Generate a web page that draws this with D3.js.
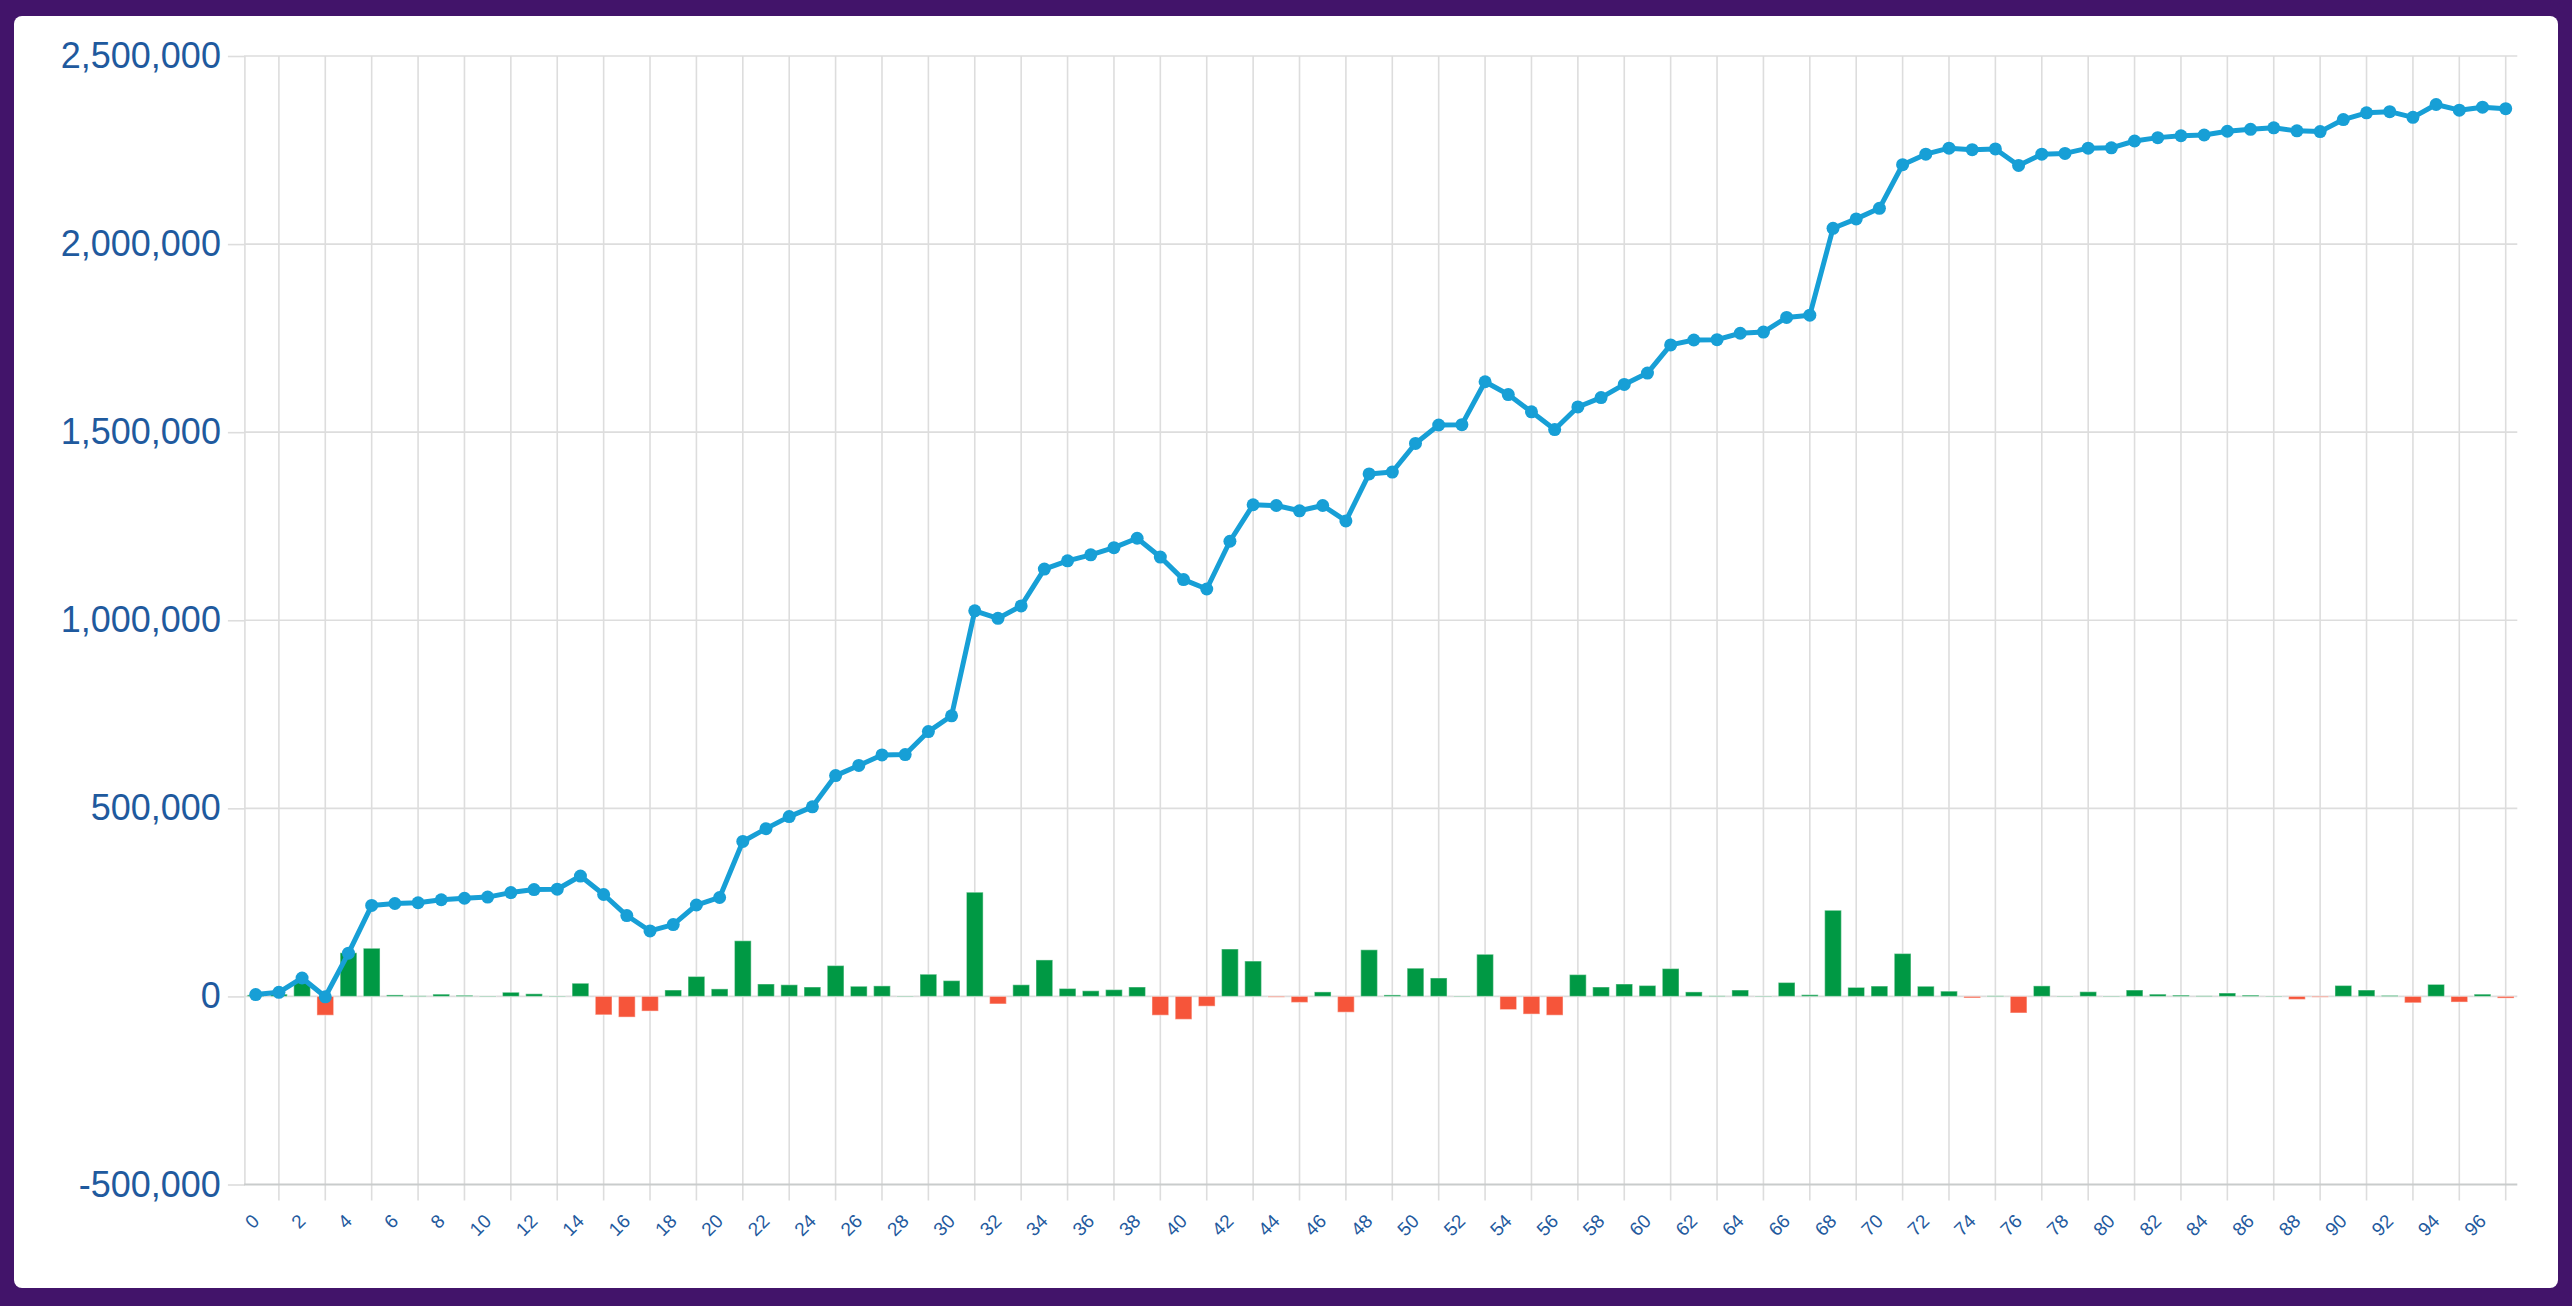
<!DOCTYPE html>
<html>
<head>
<meta charset="utf-8">
<script src="https://cdn.jsdelivr.net/npm/d3@7/dist/d3.min.js"></script>
<style>
  html, body { margin: 0; padding: 0; background: #42146a; }
  svg { display: block; }
  .tick text { font-family: "Liberation Sans", Arial, sans-serif; fill: #1f5a9e; }
</style>
</head>
<body>
<div id="chart"></div>
<script>
// categories (x index)
const categories = [
  0, 1, 2, 3, 4, 5, 6, 7, 8, 9, 10, 11, 12, 13, 14, 15, 16, 17, 18, 19,
  20, 21, 22, 23, 24, 25, 26, 27, 28, 29, 30, 31, 32, 33, 34, 35, 36, 37, 38, 39,
  40, 41, 42, 43, 44, 45, 46, 47, 48, 49, 50, 51, 52, 53, 54, 55, 56, 57, 58, 59,
  60, 61, 62, 63, 64, 65, 66, 67, 68, 69, 70, 71, 72, 73, 74, 75, 76, 77, 78, 79,
  80, 81, 82, 83, 84, 85, 86, 87, 88, 89, 90, 91, 92, 93, 94, 95, 96, 97
];

// running total (line)
const totals = [
  5000, 11000, 49000, -1000, 115000, 242000, 247000, 249000, 257000, 261000,
  264000, 276000, 284000, 285000, 320000, 271000, 215000, 174000, 191000, 243000,
  263000, 412000, 446000, 478000, 504000, 587000, 614000, 642000, 643000, 704000,
  746000, 1025000, 1005000, 1038000, 1136000, 1158000, 1174000, 1193000, 1218000, 1168000,
  1108000, 1083000, 1210000, 1307000, 1305000, 1291000, 1305000, 1264000, 1389000, 1394000,
  1470000, 1519000, 1520000, 1634000, 1600000, 1554000, 1507000, 1567000, 1592000, 1627000,
  1657000, 1732000, 1745000, 1746000, 1763000, 1766000, 1805000, 1811000, 2042000, 2067000,
  2095000, 2211000, 2239000, 2255000, 2251000, 2253000, 2209000, 2239000, 2241000, 2255000,
  2256000, 2274000, 2283000, 2288000, 2290000, 2300000, 2305000, 2309000, 2301000, 2299000,
  2331000, 2349000, 2352000, 2337000, 2371000, 2356000, 2364000, 2360000
];

// change per step (bars)
const changes = [
  4000, 6000, 37000, -50000, 116000, 128000, 4000, 1500, 6000, 3000,
  1000, 11000, 7000, 1000, 35000, -49000, -55000, -39000, 17000, 53000,
  20000, 148000, 33000, 31000, 25000, 82000, 27000, 28000, 1000, 59000,
  42000, 277000, -20000, 31000, 97000, 21000, 15000, 18000, 25000, -50000,
  -61000, -26000, 126000, 94000, -2000, -16000, 12000, -42000, 124000, 4000,
  75000, 49000, 1000, 112000, -35000, -47000, -50000, 58000, 25000, 33000,
  29000, 74000, 12000, 1500, 17000, 1000, 37000, 4500, 229000, 24000,
  27500, 114000, 27000, 14000, -4000, 1500, -44000, 28000, 1000, 12500,
  1000, 17000, 6000, 3500, 1500, 9000, 3500, 1000, -8000, -2000,
  29000, 17000, 2500, -17000, 32000, -15000, 6000, -4500
];

const yTicks = [-500000, 0, 500000, 1000000, 1500000, 2000000, 2500000];
const xTickLabels = categories.filter(d => d % 2 === 0);
const gridAt = categories.filter(d => d % 2 === 1);

const W = 2572, H = 1306;
const plotLeft = 244.1, plotRight = 2517.3, plotTop = 56, plotBottom = 1184.5;
const gridColor = "#dddddd";

const svg = d3.select("#chart").append("svg")
  .attr("width", W)
  .attr("height", H);

// white card
svg.append("rect")
  .attr("x", 14).attr("y", 16)
  .attr("width", 2544).attr("height", 1272)
  .attr("rx", 8)
  .attr("fill", "#ffffff");

const x = d3.scaleBand().domain(categories).range([plotLeft, plotRight]).padding(0);
const y = d3.scaleLinear().domain([-500000, 2500000]).range([plotBottom, plotTop]);
const cx = d => x(d) + x.bandwidth() / 2;
const fmt = d3.format(",");

// grid
const grid = svg.append("g").attr("class", "grid");
grid.selectAll(".hgrid")
  .data(yTicks.filter(d => d !== -500000))
  .enter().append("line")
  .attr("x1", plotLeft).attr("x2", plotRight)
  .attr("y1", d => y(d)).attr("y2", d => y(d))
  .attr("stroke", gridColor)
  .attr("stroke-width", 1.6);

grid.selectAll(".vgrid")
  .data(gridAt)
  .enter().append("line")
  .attr("x1", d => cx(d)).attr("x2", d => cx(d))
  .attr("y1", plotTop).attr("y2", plotBottom + 16)
  .attr("stroke", gridColor)
  .attr("stroke-width", 1.6);

// left border
grid.append("line")
  .attr("x1", plotLeft + 0.8).attr("x2", plotLeft + 0.8)
  .attr("y1", plotTop).attr("y2", plotBottom)
  .attr("stroke", gridColor)
  .attr("stroke-width", 1.6);

// y axis
const yAxis = svg.append("g")
  .attr("transform", `translate(${plotLeft + 0.8},0)`)
  .call(d3.axisLeft(y).tickValues(yTicks)
    .tickFormat(d => fmt(d).replace("\u2212", "-"))
    .tickSize(17).tickPadding(7));
yAxis.select(".domain").remove();
yAxis.selectAll(".tick line").attr("stroke", gridColor).attr("stroke-width", 1.6);
yAxis.selectAll(".tick text").style("font-size", "36px");

// bottom axis line
svg.append("line")
  .attr("x1", plotLeft).attr("x2", plotRight)
  .attr("y1", plotBottom).attr("y2", plotBottom)
  .attr("stroke", "#c9cccc")
  .attr("stroke-width", 2.2);

// x axis labels
const xAxis = svg.append("g")
  .attr("transform", `translate(0,${plotBottom})`)
  .call(d3.axisBottom(x).tickValues(xTickLabels).tickSize(0));
xAxis.select(".domain").remove();
xAxis.selectAll(".tick text")
  .style("font-size", "19px")
  .attr("text-anchor", "end")
  .attr("x", 0).attr("y", 0).attr("dy", "0.35em")
  .attr("transform", "translate(0,33) rotate(-45)");

// bars
svg.append("g").selectAll("rect")
  .data(categories)
  .enter().append("rect")
  .attr("x", d => x(d) + x.bandwidth() * 0.14)
  .attr("width", x.bandwidth() * 0.72)
  .attr("y", d => Math.min(y(changes[d]), y(0)))
  .attr("height", d => Math.abs(y(changes[d]) - y(0)))
  .attr("fill", d => changes[d] >= 0 ? "#009944" : "#f6553a")
  .attr("stroke", "rgba(255,255,255,0.4)")
  .attr("stroke-width", 1.2);

// line
const line = d3.line()
  .x(d => cx(d))
  .y(d => y(totals[d]));

svg.append("path")
  .datum(categories)
  .attr("d", line)
  .attr("fill", "none")
  .attr("stroke", "#179fd6")
  .attr("stroke-width", 5)
  .attr("stroke-linejoin", "round");

svg.append("g").selectAll("circle")
  .data(categories)
  .enter().append("circle")
  .attr("cx", d => cx(d))
  .attr("cy", d => y(totals[d]))
  .attr("r", 6.5)
  .attr("fill", "#179fd6");
</script>
</body>
</html>
